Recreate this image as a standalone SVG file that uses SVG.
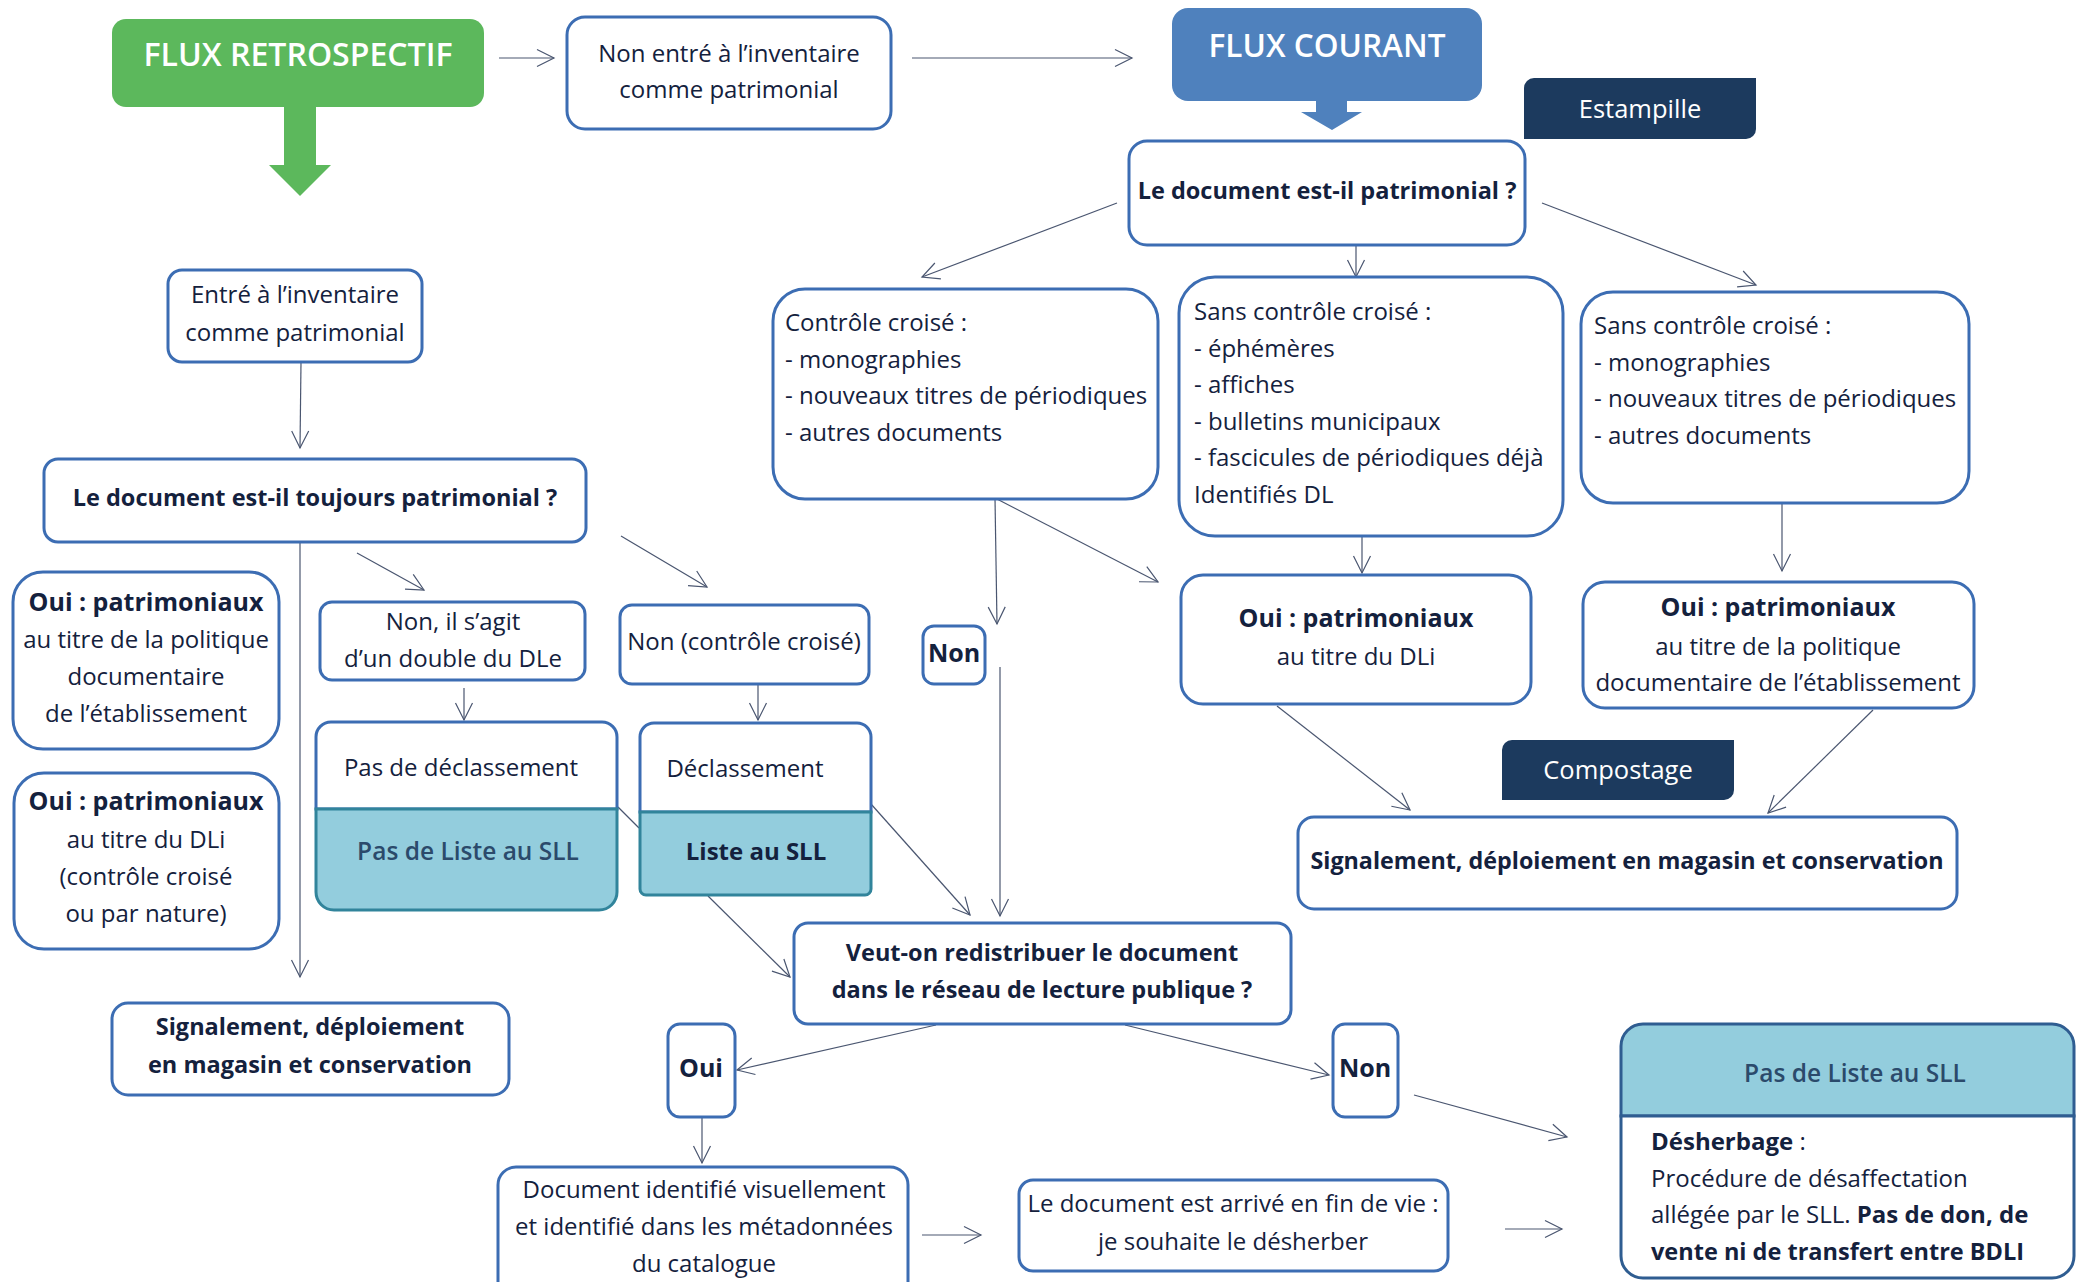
<svg xmlns="http://www.w3.org/2000/svg" width="2085" height="1282" viewBox="0 0 2085 1282">
<defs>
<style>
.box{fill:#fff;stroke:#3c6db3;stroke-width:3}
.lb{fill:#93cddd;stroke:#31849b;stroke-width:3}
.t{font-family:'Open Sans','Liberation Sans',sans-serif;font-size:24px;fill:#14213d}
.b{font-weight:700;font-size:23.5px}
.h{font-weight:700;font-size:25px}
.c{text-anchor:middle}
.w{fill:#fff}
.ttl{font-size:32px;font-weight:600}
.tag{font-size:25.5px;font-weight:500}
.conn line{stroke:#4a5670;stroke-width:1.2;fill:none;marker-end:url(#ah)}
.conn line.nm{marker-end:none}
</style>
<marker id="ah" markerUnits="userSpaceOnUse" markerWidth="22" markerHeight="22" viewBox="-20 -11 22 22" refX="0" refY="0" orient="auto">
<path d="M-17,-8.5 L0,0 L-17,8.5" fill="none" stroke="#4a5670" stroke-width="1.2"/>
</marker>
</defs>
<rect width="2085" height="1282" fill="#fff"/>

<g class="conn">
<line x1="499" y1="58" x2="554" y2="58"/>
<line x1="912" y1="58" x2="1132" y2="58"/>
<line x1="1117" y1="203" x2="922" y2="277"/>
<line x1="1356" y1="245" x2="1356" y2="277"/>
<line x1="1542" y1="203" x2="1756" y2="285"/>
<line x1="301" y1="362" x2="300" y2="448"/>
<line x1="300" y1="541" x2="300" y2="977"/>
<line x1="357" y1="553" x2="424" y2="590"/>
<line x1="621" y1="536" x2="707" y2="587"/>
<line x1="995" y1="498" x2="997" y2="624"/>
<line x1="995" y1="498" x2="1158" y2="582"/>
<line x1="464" y1="688" x2="464" y2="720"/>
<line x1="758" y1="684" x2="758" y2="720"/>
<line x1="1000" y1="667" x2="1000" y2="916"/>
<line x1="871" y1="804" x2="970" y2="915"/>
<line x1="708" y1="896" x2="790" y2="977"/>
<line class="nm" x1="618" y1="807" x2="639" y2="828"/>
<line x1="936" y1="1025" x2="737" y2="1070"/>
<line x1="1125" y1="1025" x2="1329" y2="1075"/>
<line x1="1414" y1="1095" x2="1567" y2="1137"/>
<line x1="702" y1="1117" x2="702" y2="1163"/>
<line x1="922" y1="1235" x2="981" y2="1235"/>
<line x1="1505" y1="1229" x2="1562" y2="1229"/>
<line x1="1362" y1="535" x2="1362" y2="573"/>
<line x1="1782" y1="503" x2="1782" y2="571"/>
<line x1="1277" y1="706" x2="1410" y2="810"/>
<line x1="1873" y1="710" x2="1768" y2="813"/>
</g>

<g id="flux-retrospectif">
<rect x="112" y="19" width="372" height="88" rx="14" fill="#5cb85c"/>
<polygon points="284,105 316,105 316,165 331,165 300,196 269,165 284,165" fill="#5cb85c"/>
<text class="t w c ttl" x="298" y="66" textLength="309" lengthAdjust="spacingAndGlyphs">FLUX RETROSPECTIF</text>
</g>

<g id="flux-courant">
<rect x="1172" y="8" width="310" height="93" rx="16" fill="#4f81bd"/>
<polygon points="1316,99 1347,99 1347,112 1362,112 1332,130 1301,112 1316,112" fill="#4f81bd"/>
<text class="t w c ttl" x="1327" y="57" textLength="237" lengthAdjust="spacingAndGlyphs">FLUX COURANT</text>
</g>

<g id="estampille">
<path d="M1534,78 H1756 V129 A10,10 0 0 1 1746,139 H1524 V88 A10,10 0 0 1 1534,78 Z" fill="#1c3a5e"/>
<text class="t w c tag" x="1640" y="118">Estampille</text>
</g>

<g id="non-entre">
<rect class="box" x="567" y="17" width="324" height="112" rx="18"/>
<text class="t c" x="729" y="62">Non entré à l’inventaire</text>
<text class="t c" x="729" y="98">comme patrimonial</text>
</g>

<g id="q-patrimonial">
<rect class="box" x="1129" y="141" width="396" height="104" rx="18"/>
<text class="t b c" x="1327" y="199">Le document est-il patrimonial ?</text>
</g>

<g id="controle-croise">
<rect class="box" x="773" y="289" width="385" height="210" rx="32"/>
<text class="t" x="785" y="331">Contrôle croisé :</text>
<text class="t" x="785" y="368">- monographies</text>
<text class="t" x="785" y="404">- nouveaux titres de périodiques</text>
<text class="t" x="785" y="441">- autres documents</text>
</g>

<g id="sans-controle-1">
<rect class="box" x="1179" y="277" width="384" height="259" rx="36"/>
<text class="t" x="1194" y="320">Sans contrôle croisé :</text>
<text class="t" x="1194" y="357">- éphémères</text>
<text class="t" x="1194" y="393">- affiches</text>
<text class="t" x="1194" y="430">- bulletins municipaux</text>
<text class="t" x="1194" y="466">- fascicules de périodiques déjà</text>
<text class="t" x="1194" y="503">Identifiés DL</text>
</g>

<g id="sans-controle-2">
<rect class="box" x="1581" y="292" width="388" height="211" rx="32"/>
<text class="t" x="1594" y="334">Sans contrôle croisé :</text>
<text class="t" x="1594" y="371">- monographies</text>
<text class="t" x="1594" y="407">- nouveaux titres de périodiques</text>
<text class="t" x="1594" y="444">- autres documents</text>
</g>

<g id="entre">
<rect class="box" x="168" y="270" width="254" height="92" rx="14"/>
<text class="t c" x="295" y="303">Entré à l’inventaire</text>
<text class="t c" x="295" y="341">comme patrimonial</text>
</g>

<g id="q-toujours">
<rect class="box" x="44" y="459" width="542" height="83" rx="14"/>
<text class="t b c" x="315" y="506">Le document est-il toujours patrimonial ?</text>
</g>

<g id="oui-politique-left">
<rect class="box" x="13" y="572" width="266" height="177" rx="30"/>
<text class="t h c" x="146" y="611">Oui : patrimoniaux</text>
<text class="t c" x="146" y="648">au titre de la politique</text>
<text class="t c" x="146" y="685">documentaire</text>
<text class="t c" x="146" y="722">de l’établissement</text>
</g>

<g id="oui-dli-left">
<rect class="box" x="14" y="773" width="265" height="176" rx="30"/>
<text class="t h c" x="146" y="810">Oui : patrimoniaux</text>
<text class="t c" x="146" y="848">au titre du DLi</text>
<text class="t c" x="146" y="885">(contrôle croisé</text>
<text class="t c" x="146" y="922">ou par nature)</text>
</g>

<g id="non-double">
<rect class="box" x="320" y="602" width="265" height="78" rx="12"/>
<text class="t c" x="453" y="630">Non, il s’agit</text>
<text class="t c" x="453" y="667">d’un double du DLe</text>
</g>

<g id="non-cc">
<rect class="box" x="620" y="605" width="249" height="79" rx="12"/>
<text class="t c" x="744" y="650">Non (contrôle croisé)</text>
</g>

<g id="non-1">
<rect class="box" x="923" y="626" width="62" height="58" rx="11"/>
<text class="t h c" x="954" y="662">Non</text>
</g>

<g id="pas-declassement">
<path class="box" d="M316,809 V737 A15,15 0 0 1 331,722 H602 A15,15 0 0 1 617,737 V809 Z"/>
<path class="lb" d="M316,809 H617 V892 A18,18 0 0 1 599,910 H334 A18,18 0 0 1 316,892 Z"/>
<text class="t c" x="461" y="776">Pas de déclassement</text>
<text class="t c" x="468" y="860" style="font-weight:600;font-size:24.5px;fill:#2b4a6b">Pas de Liste au SLL</text>
</g>

<g id="declassement">
<path class="box" d="M640,812 V737 A14,14 0 0 1 654,723 H857 A14,14 0 0 1 871,737 V812 Z"/>
<path class="lb" d="M640,812 H871 V889 A6,6 0 0 1 865,895 H646 A6,6 0 0 1 640,889 Z"/>
<text class="t c" x="745" y="777">Déclassement</text>
<text class="t c" x="756" y="860" style="font-weight:700">Liste au SLL</text>
</g>

<g id="q-redistribuer">
<rect class="box" x="794" y="923" width="497" height="101" rx="14"/>
<text class="t b c" x="1042" y="961">Veut-on redistribuer le document</text>
<text class="t b c" x="1042" y="998">dans le réseau de lecture publique ?</text>
</g>

<g id="signalement-left">
<rect class="box" x="112" y="1003" width="397" height="92" rx="16"/>
<text class="t b c" x="310" y="1035">Signalement, déploiement</text>
<text class="t b c" x="310" y="1073">en magasin et conservation</text>
</g>

<g id="oui">
<rect class="box" x="668" y="1024" width="67" height="93" rx="12"/>
<text class="t h c" x="701" y="1077">Oui</text>
</g>

<g id="document-identifie">
<rect class="box" x="498" y="1167" width="410" height="140" rx="18"/>
<text class="t c" x="704" y="1198">Document identifié visuellement</text>
<text class="t c" x="704" y="1235">et identifié dans les métadonnées</text>
<text class="t c" x="704" y="1272">du catalogue</text>
</g>

<g id="fin-de-vie">
<rect class="box" x="1019" y="1180" width="429" height="91" rx="14"/>
<text class="t c" x="1233" y="1212">Le document est arrivé en fin de vie :</text>
<text class="t c" x="1233" y="1250">je souhaite le désherber</text>
</g>

<g id="non-2">
<rect class="box" x="1333" y="1024" width="65" height="93" rx="12"/>
<text class="t h c" x="1365" y="1077">Non</text>
</g>

<g id="desherbage">
<path d="M1621,1116 V1046 A22,22 0 0 1 1643,1024 H2052 A22,22 0 0 1 2074,1046 V1116 Z" fill="#93cddd" stroke="#2f5d91" stroke-width="3"/>
<path d="M1621,1116 H2074 V1256 A22,22 0 0 1 2052,1278 H1643 A22,22 0 0 1 1621,1256 Z" fill="#fff" stroke="#2f5d91" stroke-width="3"/>
<text class="t c" x="1855" y="1082" style="font-weight:600;font-size:24.5px;fill:#2b4a6b">Pas de Liste au SLL</text>
<text class="t" x="1651" y="1150"><tspan style="font-weight:700">Désherbage</tspan> :</text>
<text class="t" x="1651" y="1187">Procédure de désaffectation</text>
<text class="t" x="1651" y="1223">allégée par le SLL. <tspan style="font-weight:700">Pas de don, de</tspan></text>
<text class="t b" x="1651" y="1260">vente ni de transfert entre BDLI</text>
</g>

<g id="oui-dli-right">
<rect class="box" x="1181" y="575" width="350" height="129" rx="22"/>
<text class="t h c" x="1356" y="627">Oui : patrimoniaux</text>
<text class="t c" x="1356" y="665">au titre du DLi</text>
</g>

<g id="oui-politique-right">
<rect class="box" x="1583" y="582" width="391" height="126" rx="22"/>
<text class="t h c" x="1778" y="616">Oui : patrimoniaux</text>
<text class="t c" x="1778" y="655">au titre de la politique</text>
<text class="t c" x="1778" y="691">documentaire de l’établissement</text>
</g>

<g id="compostage">
<path d="M1512,740 H1734 V790 A10,10 0 0 1 1724,800 H1502 V750 A10,10 0 0 1 1512,740 Z" fill="#1c3a5e"/>
<text class="t w c tag" x="1618" y="779">Compostage</text>
</g>

<g id="signalement-right">
<rect class="box" x="1298" y="817" width="659" height="92" rx="16"/>
<text class="t b c" x="1627" y="869" style="font-size:23.3px">Signalement, déploiement en magasin et conservation</text>
</g>
</svg>
